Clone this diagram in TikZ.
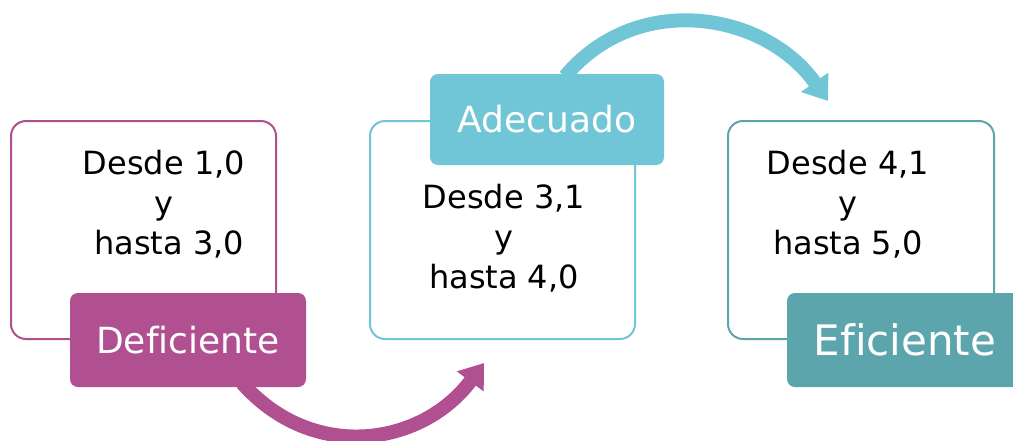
\documentclass[tikz,border=0pt]{standalone}
\usepackage{fontspec}
\setmainfont[Ligatures={NoCommon}]{DejaVu Sans}
\usetikzlibrary{arrows.meta,calc}
\definecolor{cpurple}{RGB}{176,80,145}
\definecolor{ccyan}{RGB}{112,198,214}
\definecolor{cteal}{RGB}{93,165,173}
\begin{document}
\begin{tikzpicture}[x=1pt,y=-1pt,
  box/.style={draw, line width=2pt, rounded corners=15pt, minimum width=265pt, minimum height=218pt, inner sep=0pt, outer sep=0pt},
  lab/.style={rounded corners=8pt, minimum width=236pt, minimum height=94pt, inner sep=0pt, outer sep=0pt, text=white},
  body/.style={align=center, font=\fontsize{32}{40}\selectfont, text=black, inner sep=0pt},
  band/.style={line width=14pt, -{Triangle[length=23pt,width=32pt]}}
]
\clip (0,0) rectangle (1013,440);
% boxes
\node[box, draw=cpurple] (b1) at (143.5,230) {};
\node[box, draw=ccyan]   (b2) at (502.5,230) {};
\node[box, draw=cteal, minimum width=266pt] (b3) at (861,230) {};
% body texts
\node[body] (t1) at (164,204) {Desde 1,0\\y\\\mbox{}\ hasta 3,0};
\node[body] (t2) at (504,238) {Desde 3,1\\y\\hasta 4,0};
\node[body] (t3) at (848,204) {Desde 4,1\\y\\hasta 5,0};
% label positions (for arrows)
\coordinate (l1c) at (188,340);
\coordinate (l2c) at (547,119.5);
% arrows
\coordinate (a1s) at ($(l1c)+(54,43)$);
\coordinate (a1e) at (484,363);
\draw[band, cpurple] (a1s) .. controls (313,463) and (422,446) .. (a1e);
\coordinate (a2s) at ($(l2c)+(18,-43)$);
\coordinate (a2e) at (828,101);
\draw[band, ccyan] (a2s) .. controls (636,-9) and (764,11) .. (a2e);
% labels
\node[lab, fill=cpurple, font=\fontsize{36}{40}\selectfont] (l1) at (l1c) {Deficiente};
\node[lab, fill=ccyan, minimum width=234pt, minimum height=91pt, font=\fontsize{36}{40}\selectfont] (l2) at (l2c) {Adecuado};
\node[lab, fill=cteal, font=\fontsize{42}{46}\selectfont] (l3) at (905,340) {Eficiente};
\end{tikzpicture}
\end{document}
